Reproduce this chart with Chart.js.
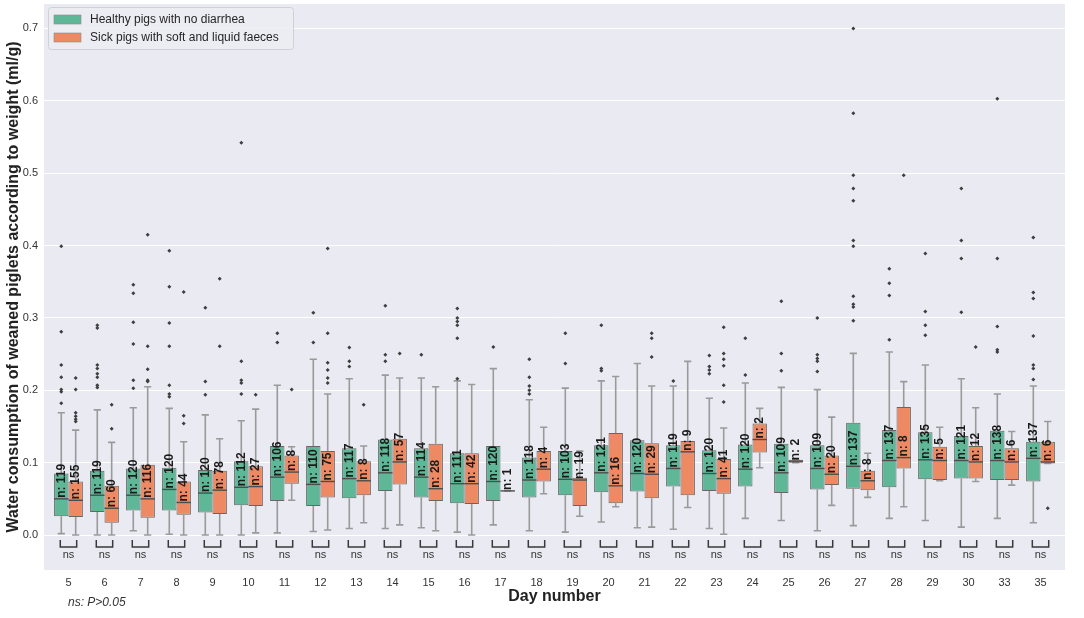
<!DOCTYPE html>
<html>
<head>
<meta charset="utf-8">
<script src="https://cdn.jsdelivr.net/npm/chart.js@4.4.0/dist/chart.umd.min.js"></script>
<style>
    html, body { margin: 0; padding: 0; background: #ffffff; }
</style>
</head>
<body>
<canvas id="waterChart" width="1084" height="618"></canvas>
<script>
const days = [5, 6, 7, 8, 9, 10, 11, 12, 13, 14, 15, 16, 17, 18, 19, 20, 21, 22, 23, 24, 25, 26, 27, 28, 29, 30, 33, 35];

// healthy pigs: whisker low, Q1, median, Q3, whisker high, n, outliers
const healthyLow = [0.002, 0.000, 0.006, 0.001, 0.000, 0.000, 0.003, 0.005, 0.009, 0.009, 0.010, 0.004, 0.014, 0.006, 0.004, 0.018, 0.010, 0.008, 0.009, 0.023, 0.020, 0.006, 0.013, 0.023, 0.020, 0.011, 0.023, 0.017];
const healthyQ1 = [0.026, 0.032, 0.034, 0.034, 0.031, 0.041, 0.047, 0.040, 0.051, 0.061, 0.052, 0.044, 0.047, 0.052, 0.055, 0.059, 0.060, 0.067, 0.061, 0.067, 0.058, 0.063, 0.064, 0.066, 0.077, 0.078, 0.076, 0.074];
const healthyMedian = [0.050, 0.055, 0.055, 0.063, 0.058, 0.066, 0.080, 0.070, 0.078, 0.086, 0.080, 0.071, 0.074, 0.076, 0.077, 0.086, 0.085, 0.092, 0.085, 0.091, 0.086, 0.092, 0.095, 0.103, 0.104, 0.103, 0.103, 0.106];
const healthyQ3 = [0.085, 0.089, 0.092, 0.093, 0.090, 0.102, 0.123, 0.123, 0.120, 0.132, 0.120, 0.113, 0.123, 0.107, 0.116, 0.124, 0.131, 0.124, 0.117, 0.125, 0.126, 0.124, 0.155, 0.145, 0.142, 0.137, 0.144, 0.129];
const healthyHigh = [0.169, 0.173, 0.176, 0.175, 0.166, 0.158, 0.207, 0.243, 0.216, 0.221, 0.217, 0.213, 0.230, 0.187, 0.203, 0.213, 0.237, 0.206, 0.189, 0.210, 0.204, 0.201, 0.251, 0.253, 0.235, 0.216, 0.195, 0.206];
const healthyN = [119, 119, 120, 120, 120, 112, 106, 110, 117, 118, 114, 111, 120, 118, 103, 121, 120, 119, 120, 120, 109, 109, 137, 137, 135, 121, 138, 137];
const healthyOutliers = [
    [0.399, 0.281, 0.235, 0.218, 0.201, 0.198, 0.182],
    [0.290, 0.286, 0.235, 0.230, 0.223, 0.218, 0.207, 0.204],
    [0.346, 0.334, 0.294, 0.264, 0.214, 0.203],
    [0.393, 0.343, 0.293, 0.261, 0.207, 0.195, 0.191],
    [0.314, 0.212, 0.194],
    [0.542, 0.240, 0.214, 0.210, 0.195],
    [0.279, 0.266],
    [0.307, 0.266],
    [0.259, 0.240, 0.233],
    [0.317, 0.249, 0.240],
    [0.249],
    [0.313, 0.300, 0.295, 0.290, 0.272, 0.216],
    [0.260],
    [0.243, 0.218, 0.206, 0.200, 0.195],
    [0.279, 0.237],
    [0.290, 0.230, 0.227],
    [],
    [0.213],
    [0.248, 0.233, 0.228, 0.223],
    [0.272, 0.221],
    [0.323, 0.251, 0.227],
    [0.300, 0.249, 0.244, 0.240, 0.226],
    [0.700, 0.583, 0.497, 0.479, 0.462, 0.407, 0.399, 0.330, 0.319, 0.315, 0.296],
    [0.368, 0.348, 0.331, 0.270],
    [0.389, 0.309, 0.290, 0.276],
    [0.479, 0.407, 0.382, 0.308],
    [0.603, 0.382, 0.288, 0.256, 0.253],
    [0.411, 0.335, 0.327, 0.275, 0.235, 0.230, 0.215]
];

// sick pigs
const sickLow = [0.000, 0.000, 0.000, 0.000, 0.000, 0.003, 0.048, 0.007, 0.017, 0.014, 0.006, 0.000, 0.061, 0.057, 0.026, 0.039, 0.011, 0.038, 0.001, 0.093, 0.100, 0.041, 0.052, 0.039, 0.075, 0.074, 0.069, 0.099];
const sickQ1 = [0.025, 0.017, 0.024, 0.028, 0.029, 0.040, 0.071, 0.052, 0.055, 0.070, 0.047, 0.043, 0.061, 0.074, 0.040, 0.044, 0.051, 0.055, 0.057, 0.114, 0.100, 0.069, 0.062, 0.092, 0.076, 0.078, 0.076, 0.099];
const sickMedian = [0.048, 0.037, 0.050, 0.045, 0.062, 0.067, 0.087, 0.074, 0.075, 0.101, 0.064, 0.071, 0.061, 0.091, 0.076, 0.068, 0.084, 0.115, 0.078, 0.132, 0.102, 0.084, 0.075, 0.107, 0.103, 0.101, 0.101, 0.101];
const sickQ3 = [0.074, 0.068, 0.097, 0.074, 0.089, 0.095, 0.110, 0.116, 0.102, 0.133, 0.126, 0.113, 0.061, 0.116, 0.079, 0.141, 0.127, 0.130, 0.105, 0.154, 0.104, 0.110, 0.089, 0.177, 0.122, 0.123, 0.120, 0.129];
const sickHigh = [0.145, 0.128, 0.205, 0.129, 0.133, 0.174, 0.122, 0.195, 0.123, 0.217, 0.205, 0.208, 0.061, 0.149, 0.116, 0.219, 0.206, 0.240, 0.148, 0.175, 0.104, 0.163, 0.113, 0.212, 0.149, 0.176, 0.143, 0.157];
const sickN = [155, 60, 116, 44, 78, 27, 8, 75, 8, 57, 28, 42, 1, 4, 19, 16, 29, 9, 41, 2, 2, 20, 8, 8, 5, 12, 6, 6];
const sickOutliers = [
    [0.217, 0.201, 0.169, 0.164, 0.160, 0.157],
    [0.180, 0.147],
    [0.415, 0.261, 0.229, 0.214, 0.212],
    [0.336, 0.165, 0.154],
    [0.354, 0.261],
    [0.194],
    [0.201],
    [0.396, 0.279, 0.238, 0.228, 0.217, 0.210],
    [0.180],
    [0.251],
    [], [], [], [], [], [],
    [0.279, 0.272, 0.246],
    [],
    [0.287, 0.251, 0.243, 0.234, 0.207, 0.184],
    [], [], [], [],
    [0.497],
    [],
    [0.260],
    [],
    [0.037]
];

const yTicks = [0.0, 0.1, 0.2, 0.3, 0.4, 0.5, 0.6, 0.7];

const FONT = '"Liberation Sans", Arial, sans-serif';
const GREEN = "rgb(94,184,152)";
const ORANGE = "rgb(238,138,99)";

const series = [
    { low: healthyLow, q1: healthyQ1, med: healthyMedian, q3: healthyQ3, high: healthyHigh, n: healthyN },
    { low: sickLow, q1: sickQ1, med: sickMedian, q3: sickQ3, high: sickHigh, n: sickN }
];

function boxData(q1, q3) {
    return q1.map(function(v, i) { return { x: i, y: [v, q3[i]] }; });
}

function outlierData(list, shift) {
    const pts = [];
    list.forEach(function(vals, i) {
        vals.forEach(function(v) { pts.push({ x: i + shift, y: v }); });
    });
    return pts;
}

const boxPlotPlugin = {
    id: "boxPlot",
    beforeDraw(chart) {
        const ctx = chart.ctx;
        const a = chart.chartArea;
        ctx.save();
        ctx.fillStyle = "#ffffff";
        ctx.fillRect(0, 0, chart.width, chart.height);
        ctx.fillStyle = "#eaeaf2";
        ctx.fillRect(a.left, a.top, a.right - a.left, a.bottom - a.top);
        ctx.restore();
    },
    beforeDatasetsDraw(chart) {
        // whiskers and caps, behind the boxes
        const ctx = chart.ctx;
        const y = chart.scales.y;
        ctx.save();
        ctx.strokeStyle = "#9a9a9a";
        ctx.lineWidth = 1.6;
        series.forEach(function(s, d) {
            chart.getDatasetMeta(d).data.forEach(function(bar, i) {
                const cap = bar.width / 4;
                const yHigh = y.getPixelForValue(s.high[i]);
                const yLow = y.getPixelForValue(s.low[i]);
                ctx.beginPath();
                ctx.moveTo(bar.x, yHigh);
                ctx.lineTo(bar.x, y.getPixelForValue(s.q3[i]));
                ctx.moveTo(bar.x, y.getPixelForValue(s.q1[i]));
                ctx.lineTo(bar.x, yLow);
                ctx.moveTo(bar.x - cap, yHigh);
                ctx.lineTo(bar.x + cap, yHigh);
                ctx.moveTo(bar.x - cap, yLow);
                ctx.lineTo(bar.x + cap, yLow);
                ctx.stroke();
            });
        });
        ctx.restore();
    },
    afterDatasetsDraw(chart) {
        const ctx = chart.ctx;
        const x = chart.scales.x;
        const y = chart.scales.y;
        ctx.save();

        // medians
        ctx.strokeStyle = "#4d4d4d";
        ctx.lineWidth = 1.4;
        series.forEach(function(s, d) {
            chart.getDatasetMeta(d).data.forEach(function(bar, i) {
                const ym = y.getPixelForValue(s.med[i]);
                ctx.beginPath();
                ctx.moveTo(bar.x - bar.width / 2, ym);
                ctx.lineTo(bar.x + bar.width / 2, ym);
                ctx.stroke();
            });
        });

        // n labels, rotated, starting at the median
        ctx.fillStyle = "#1a1a1a";
        ctx.font = "bold 12px " + FONT;
        ctx.textAlign = "left";
        ctx.textBaseline = "middle";
        series.forEach(function(s, d) {
            chart.getDatasetMeta(d).data.forEach(function(bar, i) {
                ctx.save();
                ctx.translate(bar.x, y.getPixelForValue(s.med[i]) - 1);
                ctx.rotate(-Math.PI / 2);
                ctx.fillText("n: " + s.n[i], 0, 0);
                ctx.restore();
            });
        });

        // significance brackets
        const g = chart.getDatasetMeta(0).data;
        const o = chart.getDatasetMeta(1).data;
        const yTop = y.getPixelForValue(-0.0069);
        const yBot = y.getPixelForValue(-0.0166);
        ctx.strokeStyle = "#3a3a3a";
        ctx.lineWidth = 1.5;
        ctx.fillStyle = "#333333";
        ctx.font = "11px " + FONT;
        ctx.textAlign = "center";
        days.forEach(function(day, i) {
            const x0 = g[i].x - 1;
            const x1 = o[i].x + 1;
            ctx.beginPath();
            ctx.moveTo(x0, yTop);
            ctx.lineTo(x0, yBot);
            ctx.lineTo(x1, yBot);
            ctx.lineTo(x1, yTop);
            ctx.stroke();
            ctx.fillText("ns", x.getPixelForValue(i), y.getPixelForValue(-0.0276));
        });

        // legend, inside the plot
        const lx = 48.5, ly = 7.5;
        ctx.fillStyle = "rgba(236,236,243,0.85)";
        ctx.strokeStyle = "#d0d0d6";
        ctx.lineWidth = 1;
        ctx.beginPath();
        ctx.roundRect(lx, ly, 245, 42, 3);
        ctx.fill();
        ctx.stroke();
        ctx.font = "12px " + FONT;
        ctx.textAlign = "left";
        [0, 1].forEach(function(d) {
            const ds = chart.data.datasets[d];
            const ry = 15 + d * 18;
            ctx.fillStyle = ds.backgroundColor;
            ctx.fillRect(54, ry, 27, 9);
            ctx.strokeStyle = "#8a8a8a";
            ctx.lineWidth = 0.6;
            ctx.strokeRect(54, ry, 27, 9);
            ctx.fillStyle = "#262626";
            ctx.fillText(ds.label, 90, ry + 4.5);
        });

        // footnote
        ctx.font = "italic 12px " + FONT;
        ctx.fillStyle = "#333333";
        ctx.fillText("ns: P>0.05", 68, 603);

        ctx.restore();
    }
};

const ctx = document.getElementById("waterChart");

new Chart(ctx, {
    type: "bar",
    data: {
        datasets: [{
            label: "Healthy pigs with no diarrhea",
            data: boxData(healthyQ1, healthyQ3),
            backgroundColor: GREEN,
            borderColor: "#666666",
            borderWidth: 1,
            borderSkipped: false,
            categoryPercentage: 0.8,
            barPercentage: 1.0
        }, {
            label: "Sick pigs with soft and liquid faeces",
            data: boxData(sickQ1, sickQ3),
            backgroundColor: ORANGE,
            borderColor: "#666666",
            borderWidth: 1,
            borderSkipped: false,
            categoryPercentage: 0.8,
            barPercentage: 1.0
        }, {
            type: "scatter",
            label: "outliers",
            data: outlierData(healthyOutliers, -0.2).concat(outlierData(sickOutliers, 0.2)),
            pointStyle: "rectRot",
            radius: 2,
            backgroundColor: "#3d3d3d",
            borderWidth: 0
        }]
    },
    options: {
        responsive: false,
        animation: false,
        layout: {
            padding: { top: 3, right: 19, bottom: 0, left: 0 }
        },
        plugins: {
            legend: { display: false },
            tooltip: { enabled: false }
        },
        scales: {
            x: {
                type: "linear",
                min: -0.68,
                max: 27.68,
                offset: false,
                grid: { display: false, drawTicks: false },
                border: { display: false },
                afterBuildTicks: function(scale) {
                    scale.ticks = days.map(function(d, i) { return { value: i }; });
                },
                ticks: {
                    callback: function(value) { return days[value]; },
                    autoSkip: false,
                    maxRotation: 0,
                    padding: 6,
                    color: "#333333",
                    font: { family: FONT, size: 11 }
                },
                title: {
                    display: true,
                    text: "Day number",
                    color: "#222222",
                    font: { family: FONT, size: 16, weight: "bold" },
                    padding: { top: 0, bottom: 12 }
                },
                afterFit: function(scale) {
                    scale.height = 48;
                    scale.paddingLeft = 0;
                    scale.paddingRight = 0;
                }
            },
            y: {
                min: -0.0483,
                max: 0.7338,
                grid: { color: "#ffffff", lineWidth: 1, drawTicks: false },
                border: { display: false },
                afterBuildTicks: function(scale) {
                    scale.ticks = yTicks.map(function(v) { return { value: v }; });
                },
                ticks: {
                    callback: function(value) { return value.toFixed(1); },
                    padding: 6,
                    color: "#333333",
                    font: { family: FONT, size: 11 }
                },
                title: {
                    display: true,
                    text: "Water consumption of weaned piglets according to weight (ml/g)",
                    color: "#222222",
                    font: { family: FONT, size: 16, weight: "bold" },
                    padding: { top: 4, bottom: 0 }
                },
                afterFit: function(scale) {
                    scale.width = 44;
                    scale.paddingTop = 0;
                    scale.paddingBottom = 0;
                }
            }
        }
    },
    plugins: [boxPlotPlugin]
});
</script>
</body>
</html>
